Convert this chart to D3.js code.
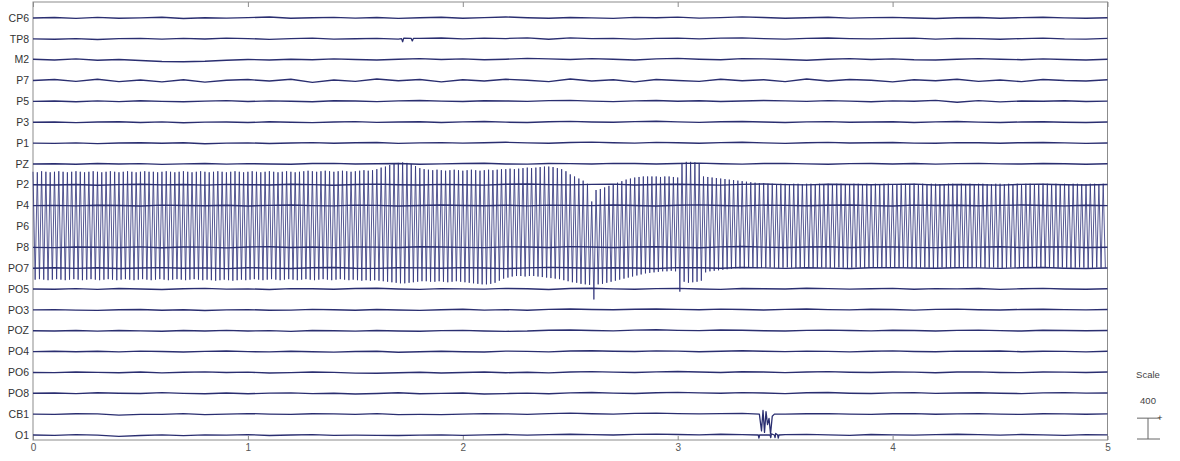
<!DOCTYPE html>
<html><head><meta charset="utf-8">
<script src="https://cdn.jsdelivr.net/npm/d3@7"></script>
<style>body{margin:0;background:#fff}svg{display:block}</style>
</head><body>
<svg id="c" width="1180" height="461"></svg>
<script>
// ---------- DATA ----------
const channels = ["CP6","TP8","M2","P7","P5","P3","P1","PZ","P2","P4","P6","P8","PO7","PO5","PO3","POZ","PO4","PO6","PO8","CB1","O1"];
const xTicks = [0,1,2,3,4,5];
const scaleValue = 400;          // µV, scale bar
const gridStep = 0.1;            // s, sampling of the slow traces
const cycleStep = 0.02;          // s, period of the P6 oscillation

// slow traces (µV), one value every 0.1 s from 0 to 5 s
const CP6 = [0,10,-8,12,-5,3,15,-10,6,-2,8,18,-6,4,12,-3,10,-8,5,14,-4,8,20,6,-5,10,2,-8,12,4,16,-2,8,22,10,-6,4,14,-3,8,12,0,-10,6,10,-4,8,15,2,-6,5];
const TP8 = [0,-8,6,-12,4,10,-5,8,-3,12,6,-10,4,14,-6,2,10,-4,8,16,-2,12,6,18,-8,20,4,10,-6,8,14,0,12,20,6,-4,10,16,4,-2,8,12,-6,10,4,-8,6,14,0,-4,10];
const M2  = [10,-5,15,-10,5,-15,-35,-40,-30,-10,5,-5,10,0,15,5,-5,10,20,5,15,0,10,25,15,5,20,10,-5,15,25,10,0,20,15,5,-10,10,20,5,15,0,-5,10,20,10,0,15,5,-5,10];
const P7  = [0,20,-15,25,-20,10,-25,15,-30,5,20,-10,25,-35,10,-15,30,-5,20,-25,15,-10,25,5,-20,30,-10,15,-25,20,0,-15,25,-5,15,-20,30,-10,20,5,-25,15,-5,25,-15,10,-20,20,0,-10,15];
const P5  = [0,8,-6,10,-4,12,0,-8,6,14,-2,10,4,-6,12,8,-4,10,16,6,-2,12,8,0,14,20,6,-4,10,16,4,12,-2,8,18,10,0,14,6,-6,10,4,20,-15,15,-10,8,4,12,-2,6];
const P3  = [0,6,-8,4,10,-4,8,-10,2,6,-6,10,0,-8,4,12,-2,6,10,-4,8,14,2,-6,10,16,6,0,12,18,8,-2,10,14,4,-6,8,12,0,6,10,-4,8,14,2,-6,6,10,0,-4,4];
const P1  = [0,-6,4,-10,2,8,-4,6,-12,0,4,-8,2,10,-2,6,12,-6,4,10,0,8,16,4,-4,12,18,6,0,14,8,-2,10,16,4,-6,8,14,2,6,12,0,-4,10,6,-2,8,12,4,-6,2];
const PZ  = [0,4,-6,8,-2,6,-8,2,10,-4,6,0,-6,8,12,-2,4,10,-6,2,8,14,0,-4,10,6,-2,12,8,0,10,16,4,-4,8,12,2,-6,6,10,0,8,-4,6,12,2,-2,8,4,-6,4];
const P2  = [0,-4,6,-8,4,10,-2,6,-6,8,2,-4,10,4,-8,6,12,0,-4,8,2,-6,10,14,4,-2,8,12,-4,6,10,0,-6,8,14,4,-2,10,6,0,8,12,-4,6,2,-6,8,10,0,-4,6];
const P4  = [0,6,-4,8,2,-6,10,4,-2,8,-6,6,12,0,-4,10,6,-8,4,12,2,-2,8,-4,10,6,0,12,4,-6,8,14,2,-4,10,6,-2,8,12,0,-6,10,4,8,-2,6,12,2,-4,8,0];
const P8  = [0,-6,8,2,-4,10,-8,6,4,-10,8,12,-2,6,-6,10,4,-4,12,8,0,-6,10,6,-2,14,8,-4,6,12,2,-8,10,16,4,-2,8,12,-4,6,10,0,-6,8,4,12,-2,6,10,-4,2];
const PO7 = [0,8,-4,10,-6,4,12,-2,6,-8,10,2,-6,8,14,0,-4,10,6,-2,12,4,-8,6,16,8,-2,10,4,-6,12,8,0,14,6,-4,10,2,-6,8,12,4,-2,10,6,-4,8,14,0,-6,4];
const PO5 = [0,-4,8,-6,10,2,-8,6,12,-2,4,-10,8,6,-4,10,14,0,-6,8,4,-2,12,6,-8,10,16,4,-4,8,12,2,-6,10,6,0,14,8,-2,6,12,-4,8,4,10,-6,6,12,2,-4,6];
const PO3 = [0,6,-4,-10,2,8,-6,4,-12,0,6,-8,-4,10,2,-6,8,-2,-10,4,12,-4,6,-8,10,16,8,2,12,18,10,4,14,8,-2,10,16,6,0,12,8,-4,10,14,4,-2,8,12,6,0,8];
const POZ = [0,-6,4,-8,6,-2,-10,4,-6,8,-4,2,-12,6,0,-8,4,-6,-10,2,8,-4,-12,-6,10,14,6,-2,12,18,8,2,14,10,0,-6,8,12,4,-2,10,6,-4,8,12,2,-6,10,4,0,6];
const PO4 = [0,8,-2,6,-6,10,2,-8,4,12,0,-6,8,-4,-10,2,6,-12,-4,8,-2,-8,10,4,-6,12,16,8,2,14,10,-2,8,16,6,0,10,4,-6,8,14,2,-4,10,6,12,-2,8,4,-6,6];
const PO6 = [0,-4,10,2,-6,8,-8,4,12,-2,6,-10,-4,8,2,-12,-16,-6,4,-10,-2,8,-6,4,-8,10,16,6,-2,12,18,8,0,14,10,-4,8,16,4,-2,10,6,-6,8,12,0,-4,10,6,-2,8];
const PO8 = [0,6,-6,10,2,-4,12,-2,-8,6,-10,4,8,-6,2,-12,-4,10,-8,-2,6,-14,-6,4,-10,8,14,4,-4,10,18,8,2,12,6,-6,10,14,2,-4,8,12,-2,6,10,0,-6,8,12,4,6];
const CB1 = [0,-6,8,4,-20,-6,-4,10,-8,2,12,0,-6,8,4,-4,10,-10,-6,-8,2,12,6,-6,10,18,8,2,14,20,10,4,12,16,6,0,8,10,2,-4,8,12,-2,6,10,0,-6,8,4,-2,6];
const O1  = [0,-8,6,-4,-25,-10,2,-12,4,-2,8,-10,0,6,-6,-4,-8,-10,-4,2,-8,4,10,-2,6,14,8,0,12,18,10,2,14,6,-4,8,12,2,-6,10,4,-2,8,14,6,-4,10,2,-6,8,4];

// short artifacts: [time s, µV]
const TP8_events = [[1.715,5],[1.72,-55],[1.725,15],[1.76,8],[1.765,-40],[1.77,8]];
const CB1_events = [[3.38,0],[3.39,-320],[3.397,70],[3.404,-350],[3.411,50],[3.418,-200],[3.425,-80],[3.432,-380],[3.44,-40],[3.45,0]];
const O1_events  = [[3.375,0],[3.378,-60],[3.381,0],[3.43,0],[3.433,-50],[3.436,20],[3.45,0],[3.453,-50],[3.456,30],[3.465,0],[3.468,-60],[3.471,0]];

// P6: peak and trough of each 0.02 s cycle (µV)
const P6_peaks = [
1050,1040,1060,1050,1040,1050,1060,1050,1040,1050,
1060,1050,1040,1050,1060,1050,1040,1050,1060,1050,
1040,1050,1060,1050,1040,1050,1060,1050,1050,1040,
1050,1060,1050,1040,1050,1060,1050,1040,1050,1060,
1050,1040,1050,1060,1050,1040,1050,1060,1050,1040,
1050,1060,1050,1040,1050,1060,1050,1040,1050,1060,
1050,1040,1050,1060,1070,1060,1050,1060,1070,1060,
1050,1060,1070,1060,1050,1060,1070,1080,1070,1080,
1100,1130,1150,1180,1200,1220,1230,1220,1200,1160,
1120,1100,1090,1080,1090,1080,1070,1080,1090,1080,
1070,1080,1090,1080,1070,1080,1090,1080,1090,1100,
1100,1110,1100,1110,1120,1130,1120,1130,1140,1150,
1150,1140,1120,1100,1060,1000,960,920,880,820,
480,700,720,750,780,810,840,870,900,920,
940,950,960,960,960,960,950,960,960,950,
940,1220,1240,1240,1230,1200,960,950,940,930,
920,910,900,890,880,870,860,850,840,830,
830,820,820,810,820,820,810,820,820,810,
820,820,810,820,815,820,810,820,820,815,
810,820,820,810,820,815,820,810,820,820,
815,810,820,820,810,820,815,820,810,820,
820,815,810,820,820,810,820,815,820,810,
820,820,815,810,820,820,810,820,815,820,
810,820,820,815,810,820,820,810,820,815,
820,810,820,820,815,810,820,820,810,820];
const P6_troughs = [
-1020,-1010,-1020,-1030,-1020,-1010,-1020,-1030,-1020,-1010,
-1020,-1030,-1020,-1010,-1020,-1030,-1020,-1010,-1020,-1030,
-1020,-1010,-1020,-1030,-1020,-1010,-1020,-1030,-1020,-1010,
-1020,-1030,-1020,-1010,-1020,-1030,-1020,-1010,-1020,-1030,
-1020,-1030,-1040,-1030,-1020,-1030,-1040,-1030,-1020,-1030,
-1020,-1010,-1020,-1030,-1020,-1010,-1020,-1030,-1020,-1010,
-1020,-1030,-1020,-1010,-1020,-1030,-1020,-1010,-1020,-1030,
-1020,-1010,-1020,-1030,-1020,-1030,-1040,-1030,-1040,-1030,
-1040,-1050,-1060,-1070,-1080,-1090,-1090,-1080,-1070,-1060,
-1050,-1050,-1060,-1060,-1050,-1060,-1070,-1060,-1050,-1060,
-1070,-1080,-1090,-1100,-1110,-1110,-1100,-1080,-1040,-1000,
-980,-960,-950,-950,-960,-950,-950,-960,-970,-980,
-990,-1000,-1010,-1030,-1050,-1070,-1080,-1100,-1110,-1120,
-1400,-1110,-1100,-1080,-1060,-1040,-1020,-1000,-980,-960,
-940,-920,-900,-890,-880,-870,-860,-860,-850,-860,
-1250,-1060,-1080,-1070,-1060,-1040,-880,-860,-850,-840,
-830,-820,-810,-800,-800,-800,-790,-790,-800,-790,
-790,-785,-790,-795,-790,-785,-790,-795,-790,-785,
-790,-795,-790,-785,-790,-795,-790,-785,-790,-795,
-790,-785,-790,-795,-790,-785,-790,-795,-790,-785,
-790,-795,-790,-785,-790,-795,-790,-785,-790,-795,
-790,-785,-790,-795,-790,-785,-790,-795,-790,-785,
-790,-795,-790,-785,-790,-795,-790,-785,-790,-795,
-790,-785,-790,-795,-790,-785,-790,-795,-790,-785,
-790,-795,-790,-785,-790,-795,-790,-785,-790,-790];

const slow = {CP6,TP8,M2,P7,P5,P3,P1,PZ,P2,P4,P8,PO7,PO5,PO3,POZ,PO4,PO6,PO8,CB1,O1};
const events = {TP8:TP8_events, CB1:CB1_events, O1:O1_events};

// ---------- CHART ----------
const svg = d3.select("#c");
const font = "'Liberation Sans', Arial, sans-serif";
const traceColor = "#2a2e70";
const x = d3.scaleLinear().domain([0,5]).range([33,1107.5]);
const chY = d3.scalePoint().domain(channels).range([18,435]);
const spacing = chY.step();
const uv = d3.scaleLinear().domain([0,scaleValue]).range([0,-spacing]);
const plotTop = 2, plotBottom = 440;

// frame
svg.append("rect").attr("x",x(0)).attr("y",plotTop).attr("width",x(5)-x(0)).attr("height",plotBottom-plotTop)
  .attr("fill","none").attr("stroke","#8c8c8c").attr("stroke-width",1);

// P6 oscillation first (behind)
const p6pts = [];
P6_peaks.forEach((v,i)=>{ p6pts.push([i*cycleStep, v]); p6pts.push([i*cycleStep+cycleStep/2, P6_troughs[i]]); });
const lineFor = name => d3.line().x(d=>x(d[0])).y(d=>chY(name)+uv(d[1]));
svg.append("path").attr("d", lineFor("P6")(p6pts)).attr("fill","none")
  .attr("stroke","#2c3078").attr("stroke-width",0.8);

// slow traces
Object.keys(slow).forEach(name=>{
  let pts = slow[name].map((v,i)=>[i*gridStep, v]);
  if (events[name]) {
    const ev = events[name];
    const t0 = ev[0][0], t1 = ev[ev.length-1][0];
    pts = pts.filter(p=>p[0]<t0 || p[0]>t1).concat(ev).sort((a,b)=>a[0]-b[0]);
  }
  const w = name === "CB1" || name === "O1" || name === "TP8" ? 1.3 : 1.4;
  svg.append("path").attr("d", lineFor(name)(pts)).attr("fill","none")
    .attr("stroke",traceColor).attr("stroke-width",w).attr("stroke-linejoin","round");
});

// channel labels
svg.append("g").selectAll("text").data(channels).join("text")
  .attr("x",29).attr("y",d=>chY(d)).attr("dy","0.35em").attr("text-anchor","end")
  .attr("font-family",font).attr("font-size",10.5).attr("fill","#333").text(d=>d);

// x axes
const ax = svg.append("g").attr("transform",`translate(0,${plotBottom})`)
  .call(d3.axisBottom(x).tickValues(xTicks).tickFormat(d3.format("d")).tickSizeInner(-4).tickSizeOuter(0).tickPadding(4));
ax.select(".domain").remove();
ax.selectAll("line").attr("stroke","#8c8c8c");
ax.selectAll("text").attr("font-family",font).attr("font-size",10).attr("fill","#555");
const axT = svg.append("g").attr("transform",`translate(0,${plotTop})`)
  .call(d3.axisTop(x).tickValues(xTicks).tickFormat("").tickSizeInner(-5).tickSizeOuter(0));
axT.select(".domain").remove();
axT.selectAll("line").attr("stroke","#8c8c8c");

// scale legend
const lg = svg.append("g").attr("font-family",font).attr("fill","#444").attr("font-size",9.5).attr("text-anchor","middle");
lg.append("text").attr("x",1148).attr("y",378).text("Scale");
lg.append("text").attr("x",1148).attr("y",404).text(String(scaleValue));
const barBottom = 439, barTop = barBottom + uv(scaleValue);
const bs = "#666";
svg.append("line").attr("x1",1137).attr("x2",1160).attr("y1",barTop).attr("y2",barTop).attr("stroke",bs);
svg.append("line").attr("x1",1137).attr("x2",1160).attr("y1",barBottom).attr("y2",barBottom).attr("stroke",bs);
svg.append("line").attr("x1",1148).attr("x2",1148).attr("y1",barTop).attr("y2",barBottom).attr("stroke",bs);
svg.append("text").attr("x",1160).attr("y",barTop+3).attr("font-family",font).attr("font-size",9).attr("fill","#333").attr("text-anchor","middle").text("+");
</script>
</body></html>
